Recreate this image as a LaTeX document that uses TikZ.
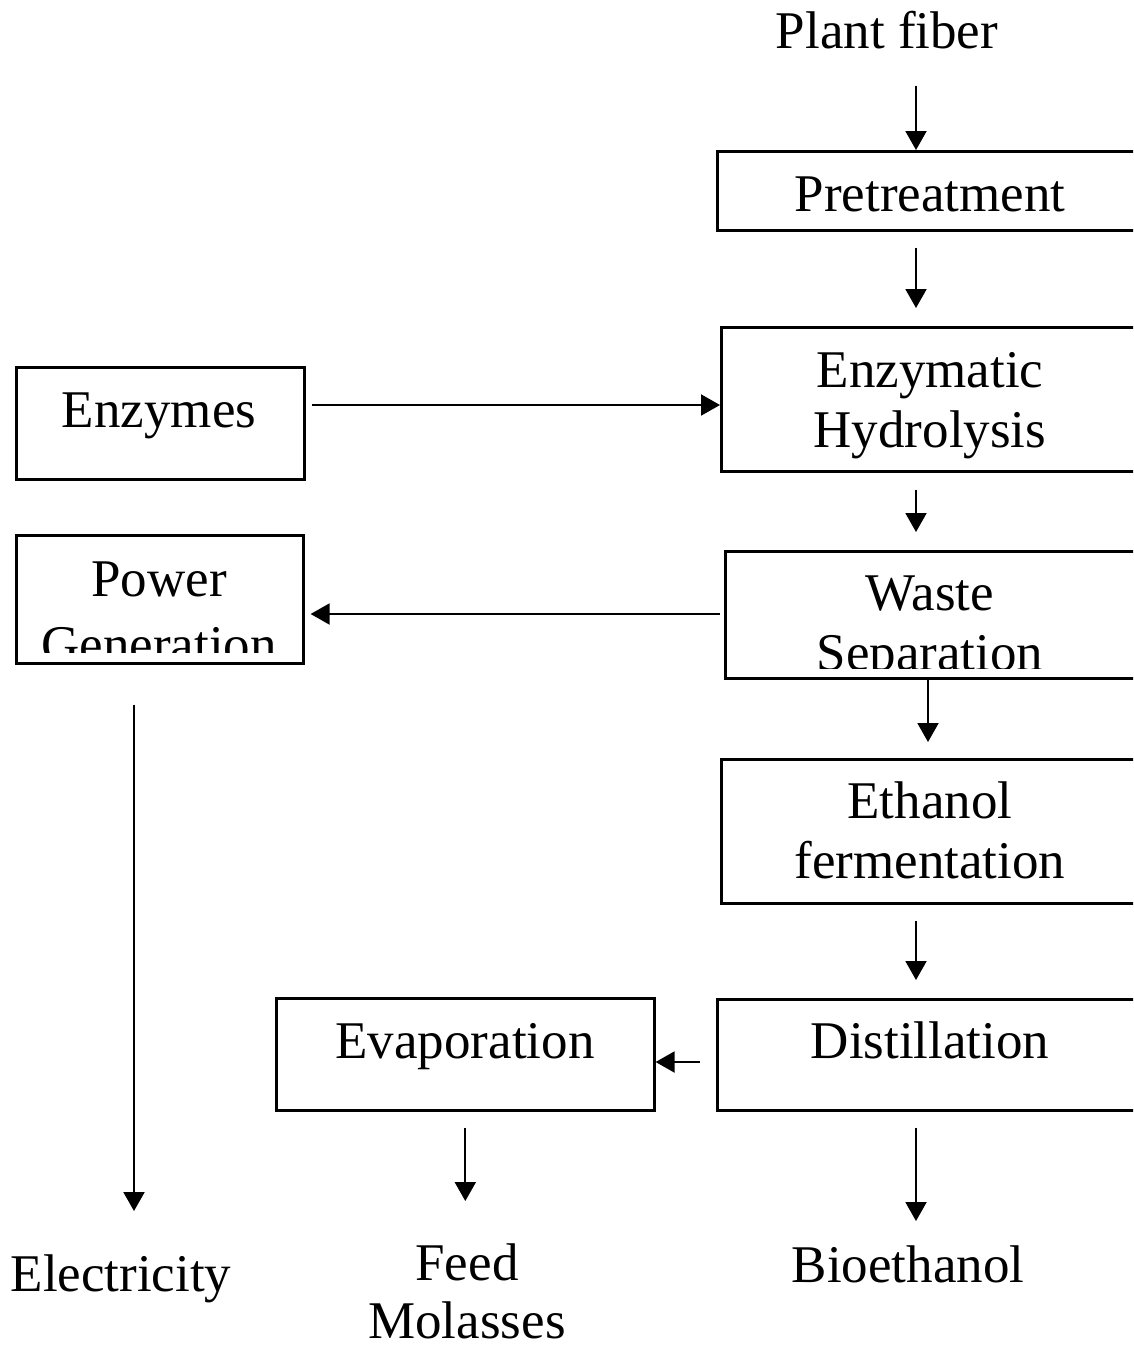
\documentclass[tikz,border=0pt]{standalone}
\usepackage{fontspec}
\setmainfont{Liberation Serif}
\usetikzlibrary{arrows.meta,positioning}
\tikzset{
  box/.style={draw, line width=2.6pt, inner sep=0pt, anchor=north west},
  lbl/.style={font=\fontsize{53}{60}\selectfont, inner sep=0pt, anchor=base},
  lbltwo/.style={lbl, text width=420pt, align=center},
  arr/.style={line width=2pt, -{Triangle[length=19pt,width=21pt]}}
}
\begin{document}
\begin{tikzpicture}[x=1pt,y=-1pt]
\useasboundingbox (0,0) rectangle (1133,1347);
\clip (0,0) rectangle (1133,1347);
% boxes
\node[box, minimum width=428pt, minimum height=79pt] (pre) at (716,150) {};
\node[box, minimum width=424pt, minimum height=144pt] (eh) at (720,326) {};
\node[box, minimum width=288pt, minimum height=112pt] (enz) at (15,366) {};
\node[box, minimum width=420pt, minimum height=127pt] (ws) at (724,550) {};
\node[box, minimum width=287pt, minimum height=128pt] (pg) at (15,534) {};
\node[box, minimum width=424pt, minimum height=144pt] (ef) at (720,758) {};
\node[box, minimum width=428pt, minimum height=111pt] (dist) at (716,998) {};
\node[box, minimum width=378pt, minimum height=112pt] (evap) at (275,997) {};
% texts
\node[lbl] (fiber) at (887,48) {Plant fiber};
\node[lbl] (pre-t) at (930,211) {Pretreatment};
\node[lbltwo] (eh-t) at (930,387) {Enzymatic\\Hydrolysis};
\node[lbl] (enz-t) at (159,427) {Enzymes};
\begin{scope}
  \clip (ws.north west) rectangle ([yshift=11pt]ws.south east);
  \node[lbltwo] (ws-t) at (930,610) {Waste\\Separation};
\end{scope}
\begin{scope}
  \clip (pg.north west) rectangle ([yshift=12pt]pg.south east);
  \node[lbltwo] (pg-t) at (159,596) {Power\\[6pt]Generation};
\end{scope}
\node[lbltwo] (ef-t) at (930,818) {Ethanol\\fermentation};
\node[lbl] (dist-t) at (930,1058) {Distillation};
\node[lbl] (evap-t) at (465,1058) {Evaporation};
\node[lbltwo] (feed) at (467,1280) {Feed\\[-2pt]Molasses};
\node[lbl] (bio) at (908,1282) {Bioethanol};
\node[lbl] (elec) at (121,1291) {Electricity};
% connectors
\coordinate (c1) at (916,0);
\coordinate (c4) at (928,0);
\coordinate (c6) at (134,0);
\coordinate (r1) at (0,405);
\coordinate (r2) at (0,614);
\coordinate (r3) at (0,1062);
\draw[arr, shorten <=37pt] (fiber.south -| c1) -- (pre.north -| c1);
\draw[arr, shorten <=16pt, shorten >=18pt] (pre.south -| c1) -- (eh.north -| c1);
\draw[arr, shorten <=6pt] (enz.east |- r1) -- (eh.west |- r1);
\draw[arr, shorten <=17pt, shorten >=18pt] (eh.south -| c1) -- (ws.north -| c1);
\draw[arr, shorten <=4pt, shorten >=6pt] (ws.west |- r2) -- (pg.east |- r2);
\draw[arr, shorten >=16pt] (ws.south -| c4) -- (ef.north -| c4);
\draw[arr, shorten <=16pt, shorten >=18pt] (ef.south -| c1) -- (dist.north -| c1);
\draw[arr, shorten <=16pt] (dist.west |- r3) -- (evap.east |- r3);
\draw[arr, shorten <=16pt, shorten >=42pt] (evap.south) -- (evap.south |- feed.north);
\draw[arr, shorten <=16pt, shorten >=24pt] (dist.south -| c1) -- (bio.north -| c1);
\draw[arr, shorten <=40pt, shorten >=43pt] (pg.south -| c6) -- (elec.north -| c6);
\end{tikzpicture}
\end{document}
